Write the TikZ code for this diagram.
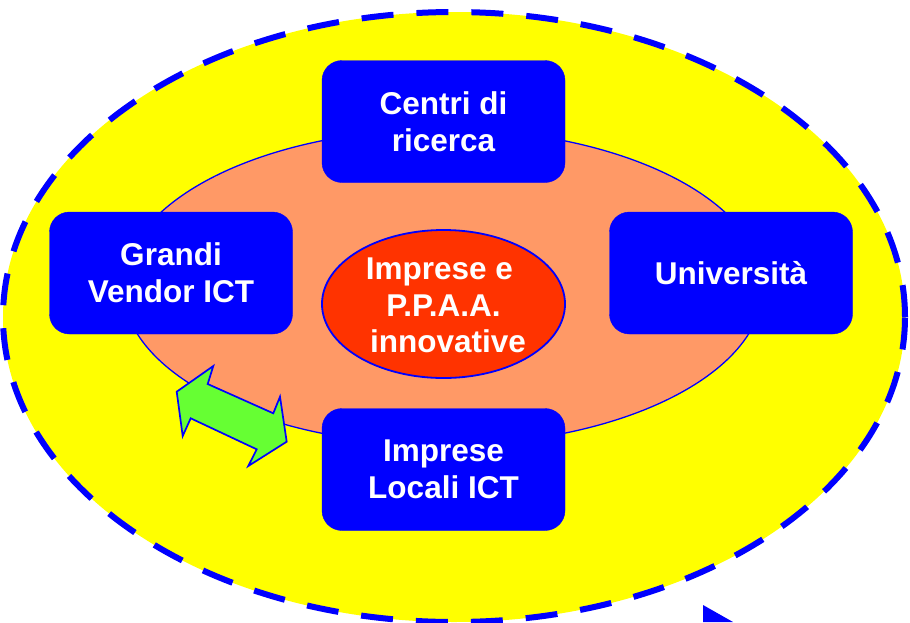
\documentclass[tikz,border=0pt]{standalone}
\usepackage{fontspec}
\setmainfont{Liberation Sans}
\usetikzlibrary{shapes.geometric}
\definecolor{yel}{HTML}{FFFF00}
\definecolor{ora}{HTML}{FF9966}
\definecolor{redo}{HTML}{FF3300}
\definecolor{bl}{HTML}{0000FF}
\definecolor{grn}{HTML}{66FF33}
\begin{document}
\begin{tikzpicture}[x=1pt,y=-1pt,
  lbl/.style={text=white, font=\fontsize{31.5}{36.7}\selectfont\bfseries, align=center},
  box/.style={lbl, fill=bl, draw=bl, rounded corners=20pt, minimum width=243pt, minimum height=122pt, inner sep=0pt},
  core/.style={ellipse, fill=redo, draw=bl, line width=1.8pt, minimum width=243pt, minimum height=148pt, inner sep=0pt},
  dbl/.style={fill=grn, draw=bl, line width=1.7pt, line join=miter}
]
\useasboundingbox (0,0) rectangle (910,622);
\fill[white] (0,0) rectangle (910,622);
% outer dashed ellipse
\draw[fill=yel, draw=bl, line width=6pt, dash pattern=on 32pt off 23pt] (454,317) ellipse [x radius=451pt, y radius=305pt];
% inner orange ellipse
\draw[fill=ora, draw=bl, line width=1.3pt] (443,287) ellipse [x radius=320pt, y radius=158pt];
% boxes
\node[box] (cr) at (443.5,121.5) {Centri di\\ricerca};
\node[box] (gv) at (171,273) {Grandi\\Vendor ICT};
\node[box] (un) at (731,273) {Università};
\node[box] (il) at (443.5,469.5) {Imprese\\Locali ICT};
% core ellipse and its text
\node[core] (ip) at (443.5,304) {};
\node[lbl, inner sep=0pt] (ipt) at (443.5,305.5) {Imprese e\kern8pt\\P.P.A.A.\\\hspace*{9pt}innovative};
% green double arrow
\draw[dbl] (176.7,391.7) -- (213.3,366) -- (207.7,384) -- (273.3,413.3) -- (280,396.7) -- (286.7,441.7) -- (248.3,466) -- (256.7,449.3) -- (190.7,418.3) -- (182.7,436) -- cycle;
% partial arrow at bottom right
\fill[bl] (703,605) -- (733,622) -- (703,622) -- cycle;
\end{tikzpicture}
\end{document}
